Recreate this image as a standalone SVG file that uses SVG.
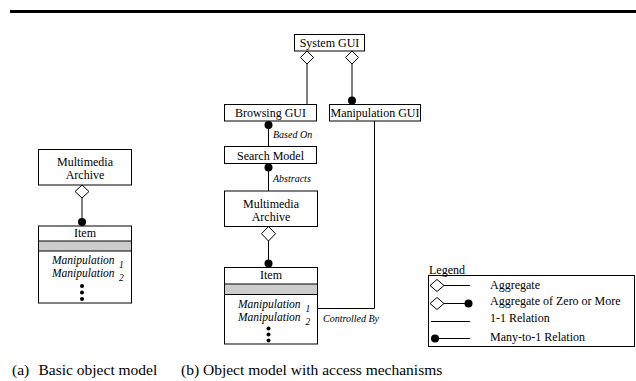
<svg xmlns="http://www.w3.org/2000/svg" width="636" height="381" viewBox="0 0 636 381">
  <style>
    text { font-family: "Liberation Serif", "Times New Roman", serif; fill: #000; }
    .lbl { font-size: 12px; text-anchor: middle; }
    .op { font-size: 11.5px; font-style: italic; }
    .sub { font-size: 9.5px; font-style: italic; }
    .rel { font-size: 10px; font-style: italic; }
    .cap { font-size: 15.5px; }
    .leg { font-size: 12px; }
    .box { fill: #fff; stroke: #000; stroke-width: 1; }
    .band { fill: #cccccc; stroke: #000; stroke-width: 1; }
    .ln { fill: none; stroke: #000; stroke-width: 1; }
    .dia { fill: #fff; stroke: #000; stroke-width: 1; }
    .dot { fill: #000; }
  </style>

  <!-- rule across the top -->
  <rect x="10" y="10" width="626" height="3" fill="#000"/>

  <!-- ===== (a) basic object model ===== -->
  <g id="a-archive">
    <rect class="box" x="38.5" y="149.5" width="93" height="35.5"/>
    <text class="lbl" x="85" y="166">Multimedia</text>
    <text class="lbl" x="85" y="178.5">Archive</text>
  </g>
  <g id="a-item">
    <rect class="box" x="38.5" y="226" width="93" height="77"/>
    <rect class="band" x="38.5" y="241" width="93" height="10"/>
    <text class="lbl" x="85" y="237">Item</text>
    <text class="op" x="52" y="264">Manipulation</text>
    <text class="sub" x="119" y="268">1</text>
    <text class="op" x="52" y="277">Manipulation</text>
    <text class="sub" x="119" y="281">2</text>
    <circle class="dot" cx="82" cy="286" r="2"/>
    <circle class="dot" cx="82" cy="292.5" r="2"/>
    <circle class="dot" cx="82" cy="299" r="2"/>
  </g>

  <!-- ===== (b) object model with access mechanisms ===== -->
  <g id="b-system-gui">
    <rect class="box" x="294.5" y="34.5" width="70" height="16.5"/>
    <text class="lbl" x="329.5" y="47">System GUI</text>
  </g>
  <g id="b-browsing-gui">
    <rect class="box" x="224.5" y="104.5" width="92" height="16.5"/>
    <text class="lbl" x="270.5" y="117">Browsing GUI</text>
  </g>
  <g id="b-manipulation-gui">
    <rect class="box" x="329.5" y="104.5" width="91" height="16.5"/>
    <text class="lbl" x="375" y="117">Manipulation GUI</text>
  </g>
  <g id="b-search-model">
    <rect class="box" x="224.5" y="146.5" width="92" height="17"/>
    <text class="lbl" x="270.5" y="159.5">Search Model</text>
  </g>
  <g id="b-archive">
    <rect class="box" x="224.5" y="191" width="93" height="35.5"/>
    <text class="lbl" x="271" y="207.5">Multimedia</text>
    <text class="lbl" x="271" y="220.5">Archive</text>
  </g>
  <g id="b-item">
    <rect class="box" x="224.5" y="267.5" width="93" height="76.5"/>
    <rect class="band" x="224.5" y="284" width="93" height="10.5"/>
    <text class="lbl" x="271" y="279">Item</text>
    <text class="op" x="238" y="307.5">Manipulation</text>
    <text class="sub" x="305.5" y="311.5">1</text>
    <text class="op" x="238" y="321">Manipulation</text>
    <text class="sub" x="305.5" y="325">2</text>
    <circle class="dot" cx="268.5" cy="328.5" r="2"/>
    <circle class="dot" cx="268.5" cy="334.5" r="2"/>
    <circle class="dot" cx="268.5" cy="340.5" r="2"/>
  </g>

  <!-- connectors -->
  <g id="connectors">
    <!-- (a) archive aggregates items -->
    <polygon class="dia" points="82,185 89,191.5 82,198 75,191.5"/>
    <line class="ln" x1="82" y1="198" x2="82" y2="222"/>
    <circle class="dot" cx="82" cy="222" r="4"/>

    <!-- System GUI aggregates Browsing GUI -->
    <polygon class="dia" points="307,51 313.5,57.5 307,64 300.5,57.5"/>
    <line class="ln" x1="307" y1="64" x2="307" y2="104.5"/>
    <!-- System GUI aggregates Manipulation GUI -->
    <polygon class="dia" points="352,51 358.5,57.5 352,64 345.5,57.5"/>
    <line class="ln" x1="352" y1="64" x2="352" y2="100.5"/>
    <circle class="dot" cx="352" cy="100.5" r="4"/>

    <!-- Browsing GUI based on Search Model -->
    <circle class="dot" cx="268.5" cy="125" r="4"/>
    <line class="ln" x1="268.5" y1="125" x2="268.5" y2="146.5"/>
    <text class="rel" x="273" y="138">Based On</text>

    <!-- Search Model abstracts archive -->
    <circle class="dot" cx="268.5" cy="167.5" r="4"/>
    <line class="ln" x1="268.5" y1="167.5" x2="268.5" y2="191"/>
    <text class="rel" x="273" y="182">Abstracts</text>

    <!-- (b) archive aggregates items -->
    <polygon class="dia" points="268.5,226.5 275.5,233.75 268.5,241 261.5,233.75"/>
    <line class="ln" x1="268.5" y1="241" x2="268.5" y2="263.5"/>
    <circle class="dot" cx="268.5" cy="263.5" r="4"/>

    <!-- Manipulation GUI controls items -->
    <polyline class="ln" points="374.5,121 374.5,308.5 317.5,308.5"/>
    <text class="rel" x="323" y="322">Controlled By</text>
  </g>

  <!-- legend -->
  <g id="legend">
    <text class="leg" x="429" y="274">Legend</text>
    <rect class="ln" x="428.5" y="275.5" width="206" height="71"/>

    <polygon class="dia" points="430,285.5 437,279.5 444,285.5 437,291.5"/>
    <line class="ln" x1="444" y1="285.5" x2="470" y2="285.5"/>
    <text class="leg" x="490" y="288.5">Aggregate</text>

    <polygon class="dia" points="430,303.5 437,297.5 444,303.5 437,309.5"/>
    <line class="ln" x1="444" y1="303.5" x2="468" y2="303.5"/>
    <circle class="dot" cx="468.5" cy="303.5" r="4"/>
    <text class="leg" x="490" y="305">Aggregate of Zero or More</text>

    <line class="ln" x1="431" y1="321.5" x2="470" y2="321.5"/>
    <text class="leg" x="490" y="321.5">1-1 Relation</text>

    <circle class="dot" cx="435" cy="338.5" r="4"/>
    <line class="ln" x1="435" y1="338.5" x2="470" y2="338.5"/>
    <text class="leg" x="490" y="341">Many-to-1 Relation</text>
  </g>

  <!-- captions -->
  <g id="captions">
    <text class="cap" x="12" y="375">(a)</text>
    <text class="cap" x="38.5" y="375">Basic object model</text>
    <text class="cap" x="181" y="375">(b) Object model with access mechanisms</text>
  </g>
</svg>
